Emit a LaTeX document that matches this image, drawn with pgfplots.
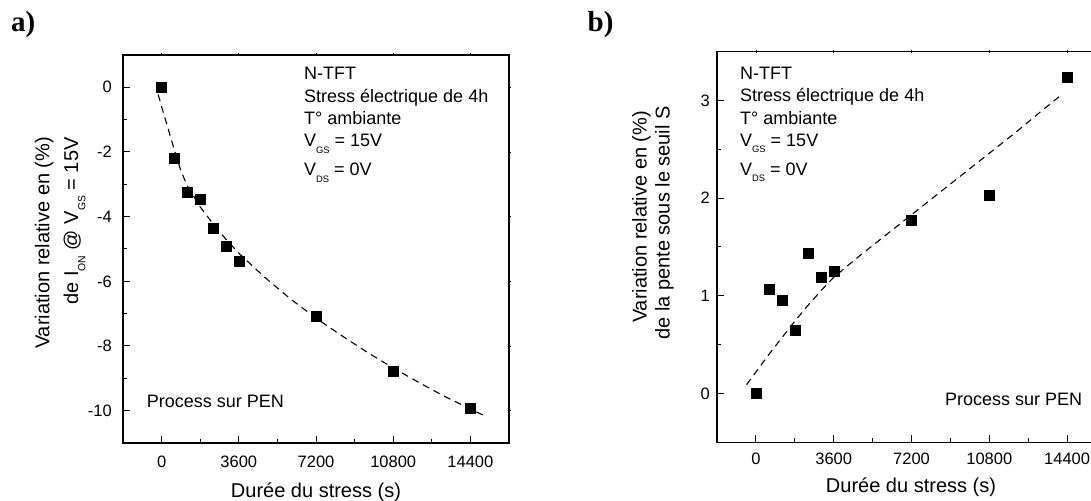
\documentclass[border=0pt]{standalone}
\usepackage{graphicx}
\usepackage{pgfplots}
\pgfplotsset{compat=1.18}
\usepackage{fontspec}
\setmainfont{Liberation Sans}
\newfontfamily\serifb{Liberation Serif}
\newcommand\sub[1]{\raisebox{-0.37em}{\scalebox{0.52}{#1}}}
\pgfplotsset{
  common/.style={
    anchor=south west, scale only axis,
    xmin=-1800, xmax=16200,
    xtick={0,3600,7200,10800,14400},
    xticklabels={0,3600,7200,10800,14400},
    scaled x ticks=false, scaled y ticks=false,
    minor xtick={1800,5400,9000,12600},
    tick align=inside, xtick pos=bottom, ytick pos=left,
    major tick length=7bp, minor tick length=4bp,
    tick style={line width=1bp, black},
    axis line style={line width=1.2bp, black},
    ticklabel style={font=\fontsize{16.5bp}{19bp}\selectfont, inner sep=0pt},
    clip=true,
  },
  topright/.style={
    anchor=south west, scale only axis,
    xmin=-1800, xmax=16200,
    xtick={0,3600,7200,10800,14400}, xticklabels={},
    scaled x ticks=false, scaled y ticks=false,
    yticklabels={}, minor tick num=0,
    tick align=center, xtick pos=top, ytick pos=right,
    major tick length=3bp,
    tick style={line width=0.8bp, black},
    axis line style={draw=none},
  },
  pts/.style={only marks, mark=square*, mark size=5bp, mark options={fill=black, draw=black, line width=0.4bp, solid}},
  fit/.style={black, line width=1.1bp, dash pattern=on 7bp off 5bp, no marks},
}
\begin{document}
\begin{tikzpicture}
% ---------- panel a ----------
\begin{axis}[topright, at={(123bp,58bp)}, width=386bp, height=388bp,
  ymin=-11, ymax=1, ytick={-10,-8,-6,-4,-2,0}]
\end{axis}
\begin{axis}[common, at={(123bp,58bp)}, width=386bp, height=388bp,
  ymin=-11, ymax=1,
  ytick={-10,-8,-6,-4,-2,0}, yticklabels={-10,-8,-6,-4,-2,0},
  minor ytick={-9,-7,-5,-3,-1},
  xticklabel style={anchor=north, yshift=-13bp},
  yticklabel style={anchor=east, xshift=-11bp},
]
\addplot[fit] coordinates {(-160,-0.22) (0,-0.6) (300,-1.27) (600,-1.95) (900,-2.58) (1200,-3.05) (1800,-3.70) (2400,-4.22) (3000,-4.70) (3600,-5.13) (4800,-5.87) (6000,-6.54) (7200,-7.14) (8400,-7.68) (9600,-8.20) (10800,-8.68) (12000,-9.13) (13200,-9.56) (14400,-9.95) (15000,-10.14)};
\addplot[pts] coordinates {(0,0) (600,-2.18) (1200,-3.25) (1800,-3.45) (2400,-4.37) (3000,-4.90) (3600,-5.39) (7200,-7.08) (10800,-8.77) (14400,-9.91)};
\end{axis}
% ---------- panel b ----------
\begin{axis}[topright, at={(717bp,58.7bp)}, width=389bp, height=390.6bp,
  ymin=-0.5, ymax=3.5, ytick={0,1,2,3}]
\end{axis}
\begin{axis}[common, at={(717bp,58.7bp)}, width=389bp, height=390.6bp,
  ymin=-0.5, ymax=3.5,
  ytick={0,1,2,3}, yticklabels={0,1,2,3},
  minor ytick={-0.5,0.5,1.5,2.5,3.5},
  xticklabel style={anchor=north, yshift=-10bp},
  yticklabel style={anchor=east, xshift=-7bp},
]
\addplot[fit] coordinates {(-430,0.09) (0,0.22) (600,0.40) (1200,0.57) (1800,0.74) (2400,0.90) (3000,1.05) (3600,1.19) (4800,1.41) (6000,1.62) (7200,1.83) (8400,2.04) (9600,2.25) (10800,2.46) (12000,2.67) (13200,2.89) (14200,3.07)};
\addplot[pts] coordinates {(0,0) (600,1.071) (1200,0.951) (1800,0.643) (2400,1.44) (3000,1.194) (3600,1.256) (7200,1.779) (10800,2.032) (14400,3.236)};
\end{axis}
% ---------- texts ----------
\begin{scope}[x=1bp,y=1bp]
\tikzset{ann/.style={anchor=base west, inner sep=0pt, font=\fontsize{18bp}{22bp}\selectfont},
         lab/.style={anchor=base, inner sep=0pt, font=\fontsize{20bp}{24bp}\selectfont}}
\node[anchor=base west, inner sep=0pt, font=\serifb\bfseries\fontsize{29bp}{33bp}\selectfont] at (11,469.5) {a)};
\node[anchor=base west, inner sep=0pt, font=\serifb\bfseries\fontsize{29bp}{33bp}\selectfont] at (587.5,469.5) {b)};
% panel a annotations
\node[ann] at (304,421.4) {N-TFT};
\node[ann] at (304,398.8) {Stress électrique de 4h};
\node[ann] at (304,376.1) {T° ambiante};
\node[ann] at (304,354.1) {V\sub{GS} = 15V};
\node[ann] at (304,325.1) {V\sub{DS} = 0V};
\node[ann] at (146.7,93.1) {Process sur PEN};
% panel b annotations
\node[ann] at (740,421.4) {N-TFT};
\node[ann] at (740,399.1) {Stress électrique de 4h};
\node[ann] at (740,376.4) {T° ambiante};
\node[ann] at (740,354.8) {V\sub{GS} = 15V};
\node[ann] at (740,325.8) {V\sub{DS} = 0V};
\node[ann] at (945,95.4) {Process sur PEN};
% axis labels
\node[lab] at (316,3.7) {Durée du stress (s)};
\node[lab] at (911,8) {Durée du stress (s)};
\node[lab, rotate=90] at (49.3,258) {Variation relative en (\%)};
\node[lab, rotate=90] at (78,280) {de I\sub{ON} @ V\sub{GS} = 15V};
\node[lab, rotate=90] at (646.7,284) {Variation relative en (\%)};
\node[lab, rotate=90] at (669.5,278) {de la pente sous le seuil S};
\pgfresetboundingbox
\useasboundingbox (0,0) rectangle (1091,501);
\end{scope}
\end{tikzpicture}
\end{document}
